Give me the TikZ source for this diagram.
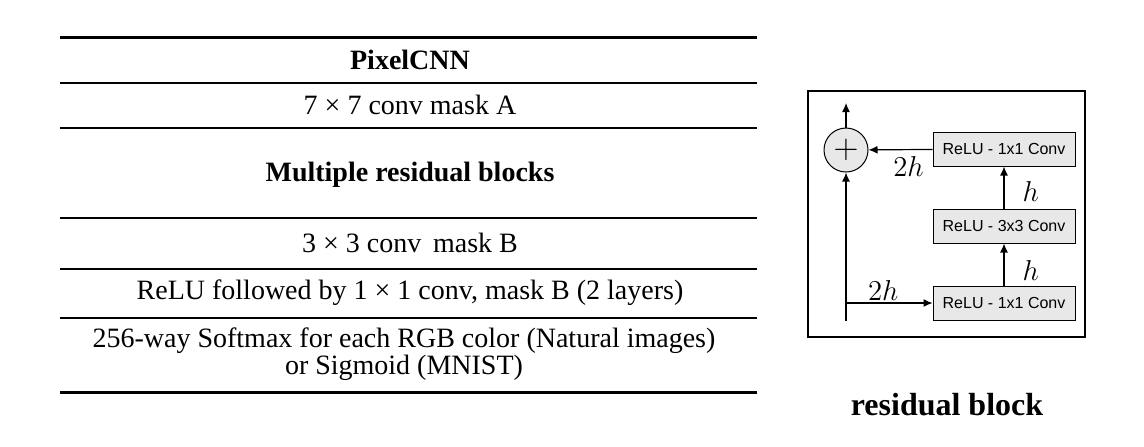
\documentclass[tikz,border=0pt]{standalone}
\usepackage{fontspec}
\setmainfont{Liberation Serif}
\newfontfamily\boxfont{Liberation Sans}
\usetikzlibrary{positioning, arrows.meta}

\tikzset{
  conv/.style={draw, line width=0.5pt, fill=gray!18, minimum width=71pt, minimum height=17pt,
    inner sep=0pt, font=\boxfont\fontsize{8}{9}\selectfont},
  sum/.style={draw, circle, line width=0.5pt, fill=gray!18, minimum size=22pt, inner sep=0pt},
  arr/.style={line width=0.6pt, -{Latex[length=4.5pt,width=4pt]}},
  row/.style={font=\fontsize{14}{12.5}\selectfont, align=center},
  lbl/.style={font=\fontsize{14}{14}\selectfont, inner sep=1pt},
  thickrule/.style={line width=1.5pt},
  thinrule/.style={line width=0.8pt}
}

\begin{document}
\begin{tikzpicture}[x=0.5pt, y=-0.5pt]
\useasboundingbox (0,0) rectangle (1144,446);

% table of layers
\draw[thickrule] (60,37) -- (757,37);
\node[row] (title)  at (410,60)  {\textbf{PixelCNN}};
\draw[thinrule] (60,83) -- (757,83);
\node[row] (maskA)  at (410,105) {7 × 7 conv mask A};
\draw[thinrule] (60,128) -- (757,128);
\node[row] (blocks) at (410,175) {\textbf{Multiple residual blocks}};
\draw[thinrule] (60,218) -- (757,218);
\node[row] (maskB)  at (410,243) {3 × 3 conv\, mask B};
\draw[thinrule] (60,269) -- (757,269);
\node[row] (relu)   at (410,293) {ReLU followed by 1 × 1 conv, mask B (2 layers)};
\draw[thinrule] (60,318) -- (757,318);
\node[row] (output) at (404,354) {256-way Softmax for each RGB color (Natural images)\\or Sigmoid (MNIST)};
\draw[thickrule] (60,392) -- (757,392);

% residual block
\draw[line width=1.4pt] (808,91) rectangle (1085,337);
\node[conv] (conv1) at (1004,303) {ReLU - 1x1 Conv};
\node[conv, above = 21pt of conv1] (conv3) {ReLU - 3x3 Conv};
\node[conv, above = 21pt of conv3] (conv2) {ReLU - 1x1 Conv};
\node[sum] (plus) at (846,150) {\fontsize{16}{16}\selectfont$+$};
\coordinate (in)    at (846,321);
\coordinate (out)   at (846,103);
\coordinate (split) at (plus.center |- conv1.west);

% Connect nodes
\draw[line width=0.6pt] (in) -- (split);
\draw[arr] (split) -- (plus);
\draw[arr] (split) -- node[lbl, above, xshift=-3pt] {$2h$} (conv1);
\draw[arr] (conv1) -- node[lbl, right, xshift=8pt, yshift=-3pt] {$h$} (conv3);
\draw[arr] (conv3) -- node[lbl, right, xshift=8pt, yshift=-2pt] {$h$} (conv2);
\draw[arr] (conv2) -- node[lbl, below, xshift=4pt, yshift=-2pt] {$2h$} (plus);
\draw[arr] (plus) -- (out);

\node[font=\fontsize{16}{17}\selectfont] (caption) at (947,405) {\textbf{residual block}};
\end{tikzpicture}
\end{document}
